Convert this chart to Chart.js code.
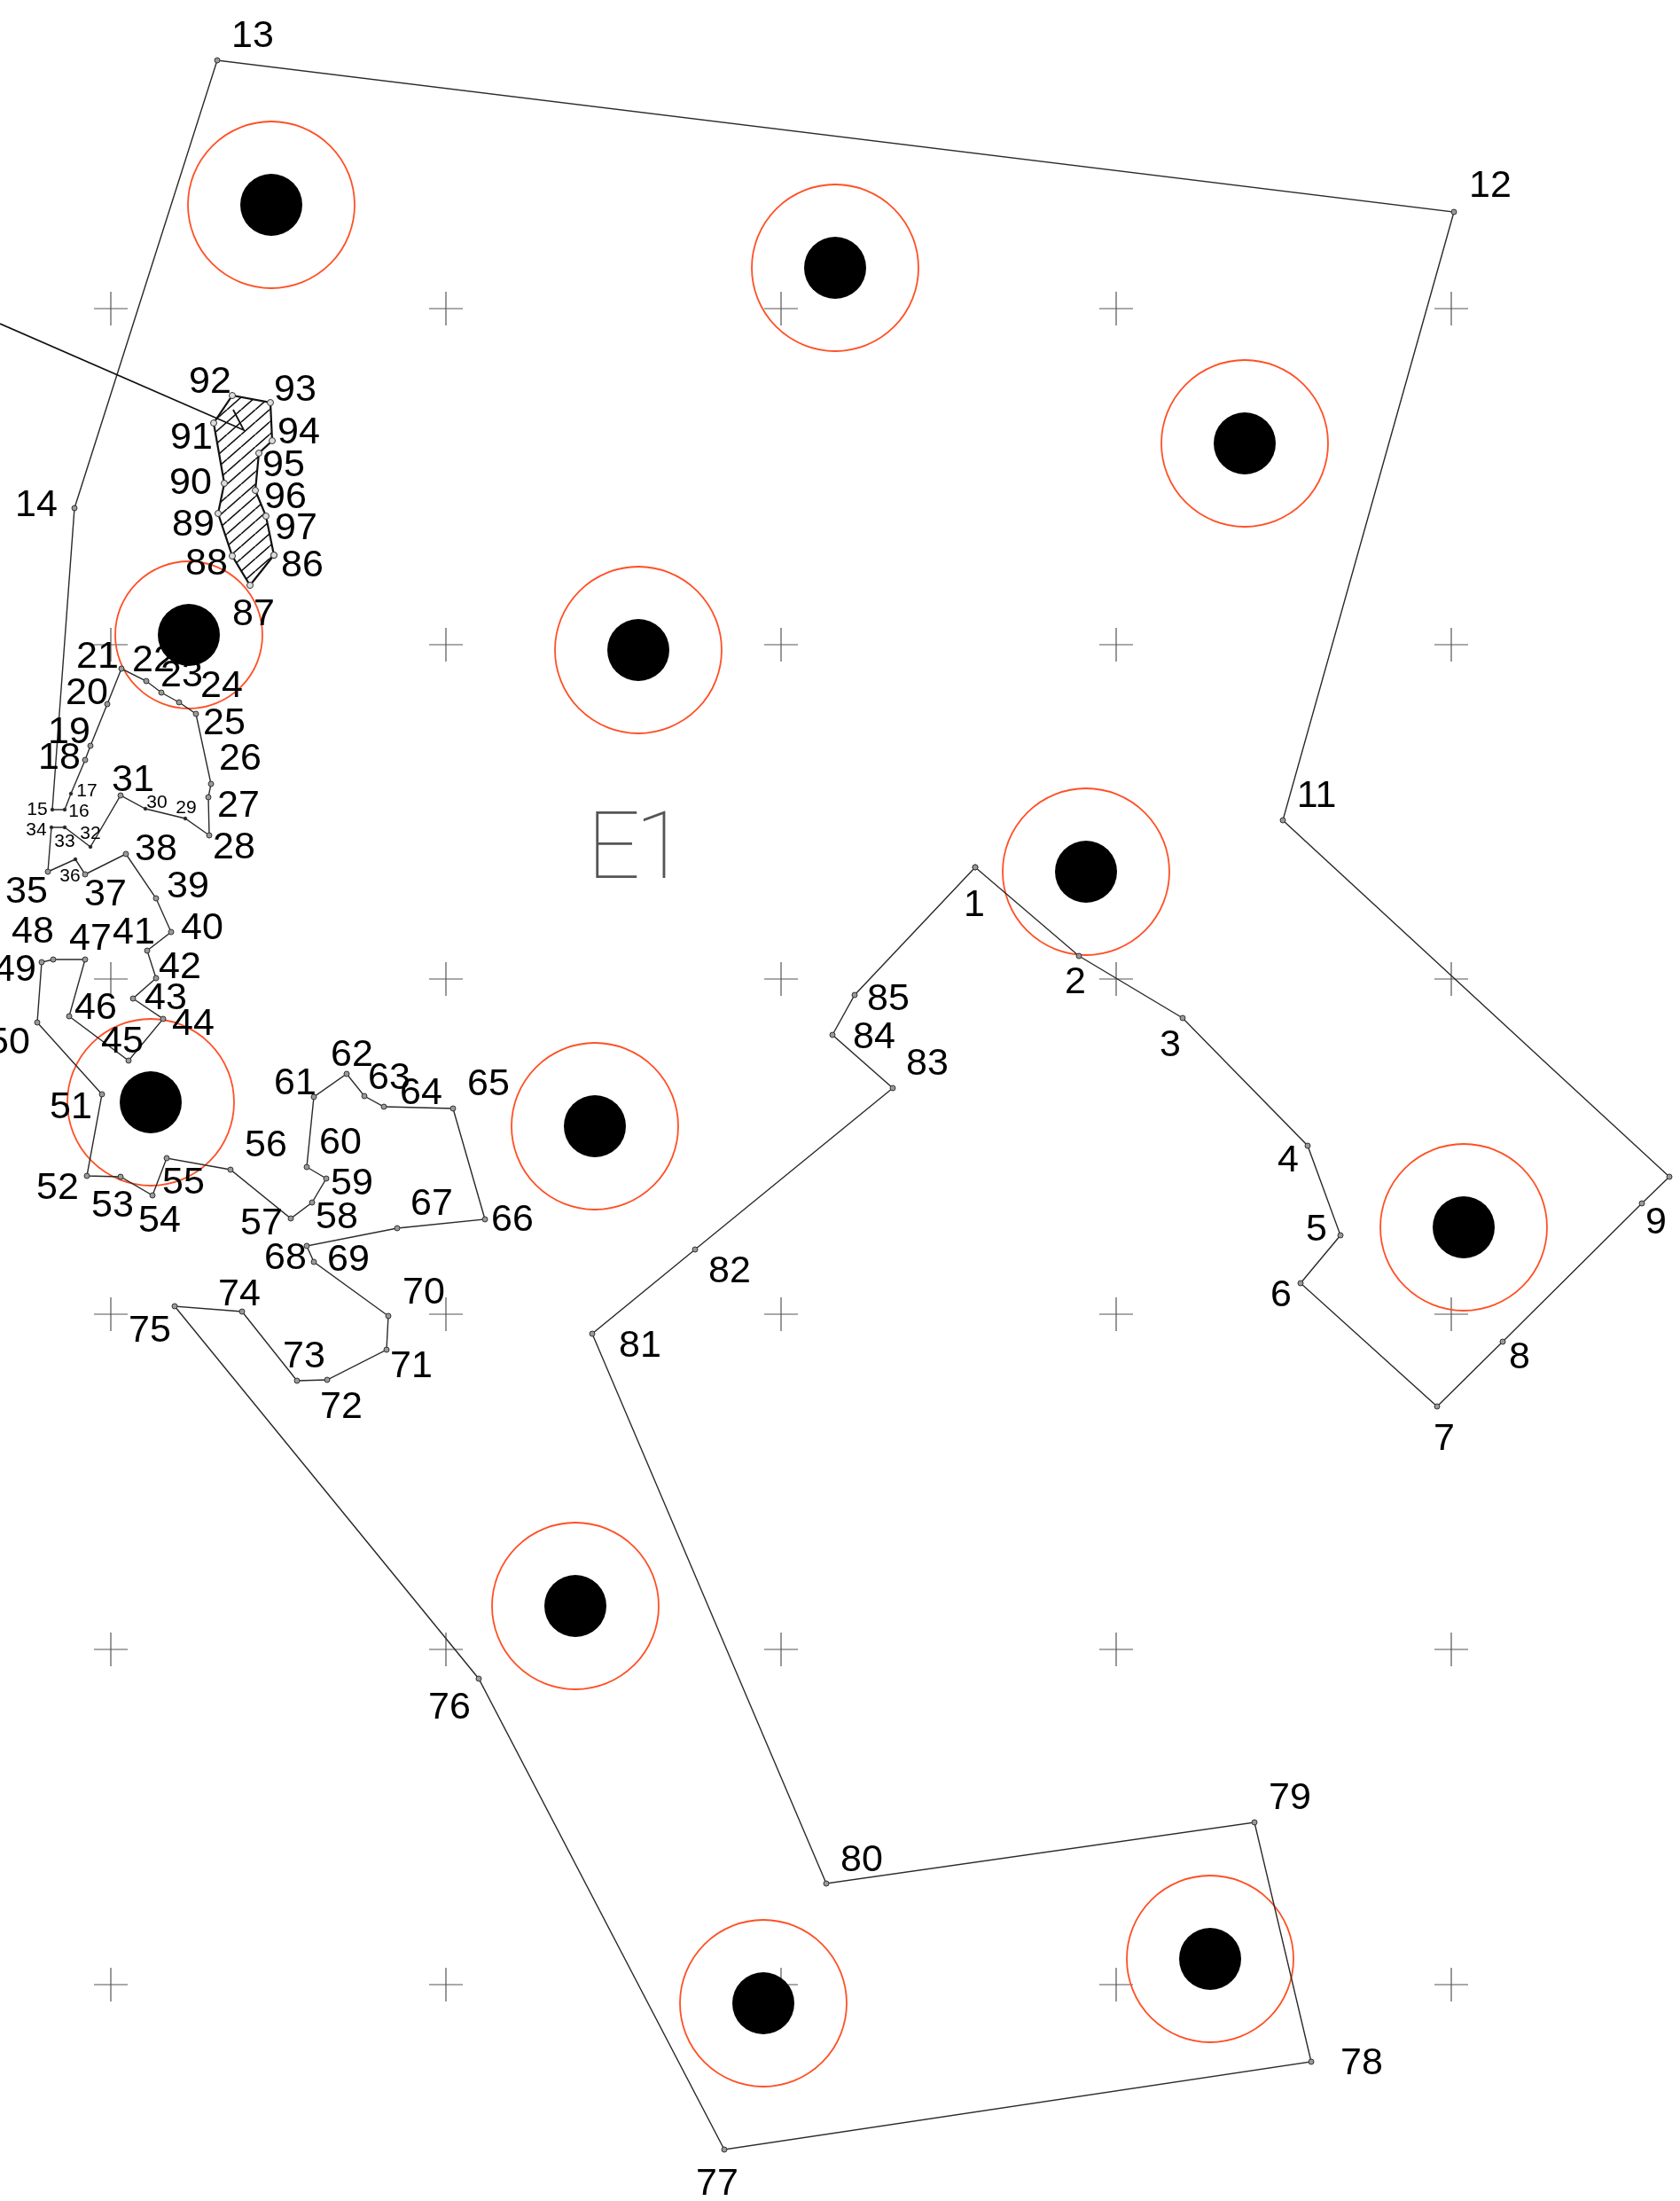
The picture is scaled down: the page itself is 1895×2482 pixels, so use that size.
<!DOCTYPE html>
<html>
<head>
<meta charset="utf-8">
<title>E1</title>
<script src="https://cdn.jsdelivr.net/npm/chart.js@4/dist/chart.umd.min.js"></script>
<style>
  html, body { margin: 0; padding: 0; background: #fff; }
  canvas { display: block; }
</style>
</head>
<body>
<canvas id="plano" width="1895" height="2482"></canvas>
<script>
// boundary vertices 1..85
const boundaryNames = ["1","2","3","4","5","6","7","8","9","","11","12","13","14","15","16","17","18","19","20","21","22","23","24","25","26","27","28","29","30","31","32","33","34","35","36","37","38","39","40","41","42","43","44","45","46","47","48","49","50","51","52","53","54","55","56","57","58","59","60","61","62","63","64","65","66","67","68","69","70","71","72","73","74","75","76","77","78","79","80","81","82","83","84","85"];
const boundaryX = [1100,1217,1334,1475,1512,1467,1621,1695,1852,1883,1447,1640,245,84,59,73,80,96,102,121,137,165,182,202,221,238,235,236,209,164,136,102,73,58,54,85,96,142,176,193,166,176,150,184,145,78,96,60,47,42,115,98,136,172,188,260,328,352,368,346,354,391,411,433,511,547,448,346,354,438,436,369,335,273,197,540,817,1479,1415,932,668,784,1007,939,964];
const boundaryY = [978,1078,1148,1292,1393,1447,1586,1513,1357,1327,925,239,68,573,913,913,895,857,841,794,754,768,781,792,805,884,899,942,923,912,897,955,933,933,983,969,986,963,1013,1051,1072,1103,1126,1149,1196,1146,1082,1082,1085,1153,1234,1326,1327,1348,1306,1319,1374,1356,1329,1316,1237,1211,1236,1248,1250,1375,1385,1405,1423,1484,1522,1556,1557,1479,1473,1893,2424,2325,2055,2124,1504,1409,1227,1167,1122];
const boundaryLabelX = [1099,1213,1320,1453,1485,1445,1629,1714,1868,-99,1485,1681,285,41,42,89,98,67,78,98,110,173,205,250,253,271,269,264,210,177,150,102,73,41,30,79,119,176,212,228,151,203,187,218,138,108,102,37,17,10,80,65,127,180,207,300,295,380,397,384,333,397,439,475,551,578,487,322,393,478,464,385,343,270,169,507,809,1536,1455,972,722,823,1046,986,1002];
const boundaryLabelY = [1018,1105,1176,1306,1384,1458,1620,1528,1376,-99,895,207,38,567,912,914,891,852,823,779,738,742,759,771,813,853,906,953,910,904,877,939,948,935,1003,987,1006,955,997,1044,1049,1088,1123,1152,1172,1134,1056,1048,1091,1173,1246,1337,1357,1374,1331,1289,1377,1370,1332,1286,1219,1187,1213,1230,1220,1373,1355,1416,1418,1455,1538,1584,1527,1457,1498,1923,2460,2324,2025,2095,1515,1431,1197,1167,1124];

// hatched parcel 86..97
const parcelNames = ["86","87","88","89","90","91","92","93","94","95","96","97"];
const parcelX = [309,282,262,246,253,241,262,305,307,292,288,300];
const parcelY = [626,660,627,579,545,477,446,454,497,511,553,582];
const parcelLabelX = [341,286,233,218,215,216,237,333,337,320,322,334];
const parcelLabelY = [635,690,633,589,542,491,428,437,485,522,558,593];

// labels and vertices drawn smaller on the plan
const smallNames = ["15","16","17","29","30","32","33","34","36"];

// leader line running into the parcel
const leaderX = [0,275,263];
const leaderY = [365,485,462];

// survey crosses
const crossX = [125,503,881,1259,1637];
const crossY = [348,727,1104,1482,1860,2238];

// rings with their black centres
const ringX = [306,942,1404,720,1225,170,671,1651,649,861,1365];
const ringY = [231,302,500,733,983,1243,1270,1384,1811,2259,2209];
const smallRingX = [213];
const smallRingY = [716];

// area name
const areaName = "E1";
const areaNameX = [662];
const areaNameY = [952];

function toPoints(xs, ys) {
  return xs.map((x, i) => ({ x: x, y: ys[i] }));
}

function closed(points) {
  return points.concat([points[0]]);
}

function hatchPattern() {
  const tile = document.createElement("canvas");
  tile.width = 16;
  tile.height = 14;
  const c = tile.getContext("2d");
  c.strokeStyle = "#111";
  c.lineWidth = 1.6;
  c.beginPath();
  c.moveTo(-16, 14); c.lineTo(0, 0);
  c.moveTo(0, 14); c.lineTo(16, 0);
  c.moveTo(16, 14); c.lineTo(32, 0);
  c.stroke();
  return document.getElementById("plano").getContext("2d").createPattern(tile, "repeat");
}

const crosses = [];
crossY.forEach(y => crossX.forEach(x => crosses.push({ x: x, y: y })));

// numbers and area name, placed through the chart scales
const labelsPlugin = {
  id: "labelsPlugin",
  afterDatasetsDraw(chart) {
    const ctx = chart.ctx;
    const sx = chart.scales.x;
    const sy = chart.scales.y;
    ctx.save();
    ctx.fillStyle = "#000";
    ctx.textAlign = "center";
    function write(names, xs, ys) {
      names.forEach((name, i) => {
        if (!name) return;
        const size = smallNames.includes(name) ? 21 : 43;
        ctx.font = size + 'px "Liberation Sans"';
        ctx.fillText(name, sx.getPixelForValue(xs[i]), sy.getPixelForValue(ys[i]) + size * 0.34);
      });
    }
    write(boundaryNames, boundaryLabelX, boundaryLabelY);
    write(parcelNames, parcelLabelX, parcelLabelY);
    ctx.fillStyle = "#555";
    ctx.textAlign = "left";
    ctx.letterSpacing = "-6px";
    ctx.font = '100 106px Roboto';
    ctx.fillText(areaName, sx.getPixelForValue(areaNameX[0]), sy.getPixelForValue(areaNameY[0]) + 38);
    ctx.restore();
  }
};

new Chart(document.getElementById("plano"), {
  type: "scatter",
  data: {
    datasets: [
      {
        data: closed(toPoints(parcelX, parcelY)),
        showLine: true,
        fill: "shape",
        backgroundColor: hatchPattern(),
        borderColor: "#111",
        borderWidth: 2.2,
        pointRadius: 3.5,
        pointBackgroundColor: "#ddd",
        pointBorderColor: "#333",
        pointBorderWidth: 1
      },
      {
        data: toPoints(leaderX, leaderY),
        showLine: true,
        borderColor: "#111",
        borderWidth: 1.8,
        pointRadius: 0
      },
      {
        data: closed(toPoints(boundaryX, boundaryY)),
        showLine: true,
        borderColor: "#2a2a2a",
        borderWidth: 1.4,
        pointRadius: ctx => smallNames.includes(boundaryNames[ctx.dataIndex]) ? 1.8 : 3,
        pointBackgroundColor: ctx => smallNames.includes(boundaryNames[ctx.dataIndex]) ? "#222" : "#999",
        pointBorderColor: "#333",
        pointBorderWidth: 1
      },
      {
        data: toPoints(ringX, ringY),
        pointRadius: 35,
        pointBackgroundColor: "#000",
        pointBorderWidth: 0
      },
      {
        data: toPoints(smallRingX, smallRingY),
        pointRadius: 35,
        pointBackgroundColor: "#000",
        pointBorderWidth: 0
      },
      {
        data: toPoints(ringX, ringY),
        pointRadius: 94,
        pointBackgroundColor: "rgba(0,0,0,0)",
        pointBorderColor: "#ff5026",
        pointBorderWidth: 1.8
      },
      {
        data: toPoints(smallRingX, smallRingY),
        pointRadius: 83,
        pointBackgroundColor: "rgba(0,0,0,0)",
        pointBorderColor: "#ff5026",
        pointBorderWidth: 1.8
      },
      {
        data: crosses,
        pointStyle: "cross",
        pointRadius: 19,
        pointBorderColor: "#555",
        pointBorderWidth: 1.2
      }
    ]
  },
  options: {
    responsive: false,
    animation: false,
    devicePixelRatio: 1,
    layout: { padding: 0, autoPadding: false },
    plugins: {
      legend: { display: false },
      tooltip: { enabled: false },
      title: { display: false }
    },
    scales: {
      x: { type: "linear", min: 0, max: 1895, display: false },
      y: { type: "linear", min: 0, max: 2482, reverse: true, display: false }
    }
  },
  plugins: [labelsPlugin]
});
</script>
</body>
</html>
